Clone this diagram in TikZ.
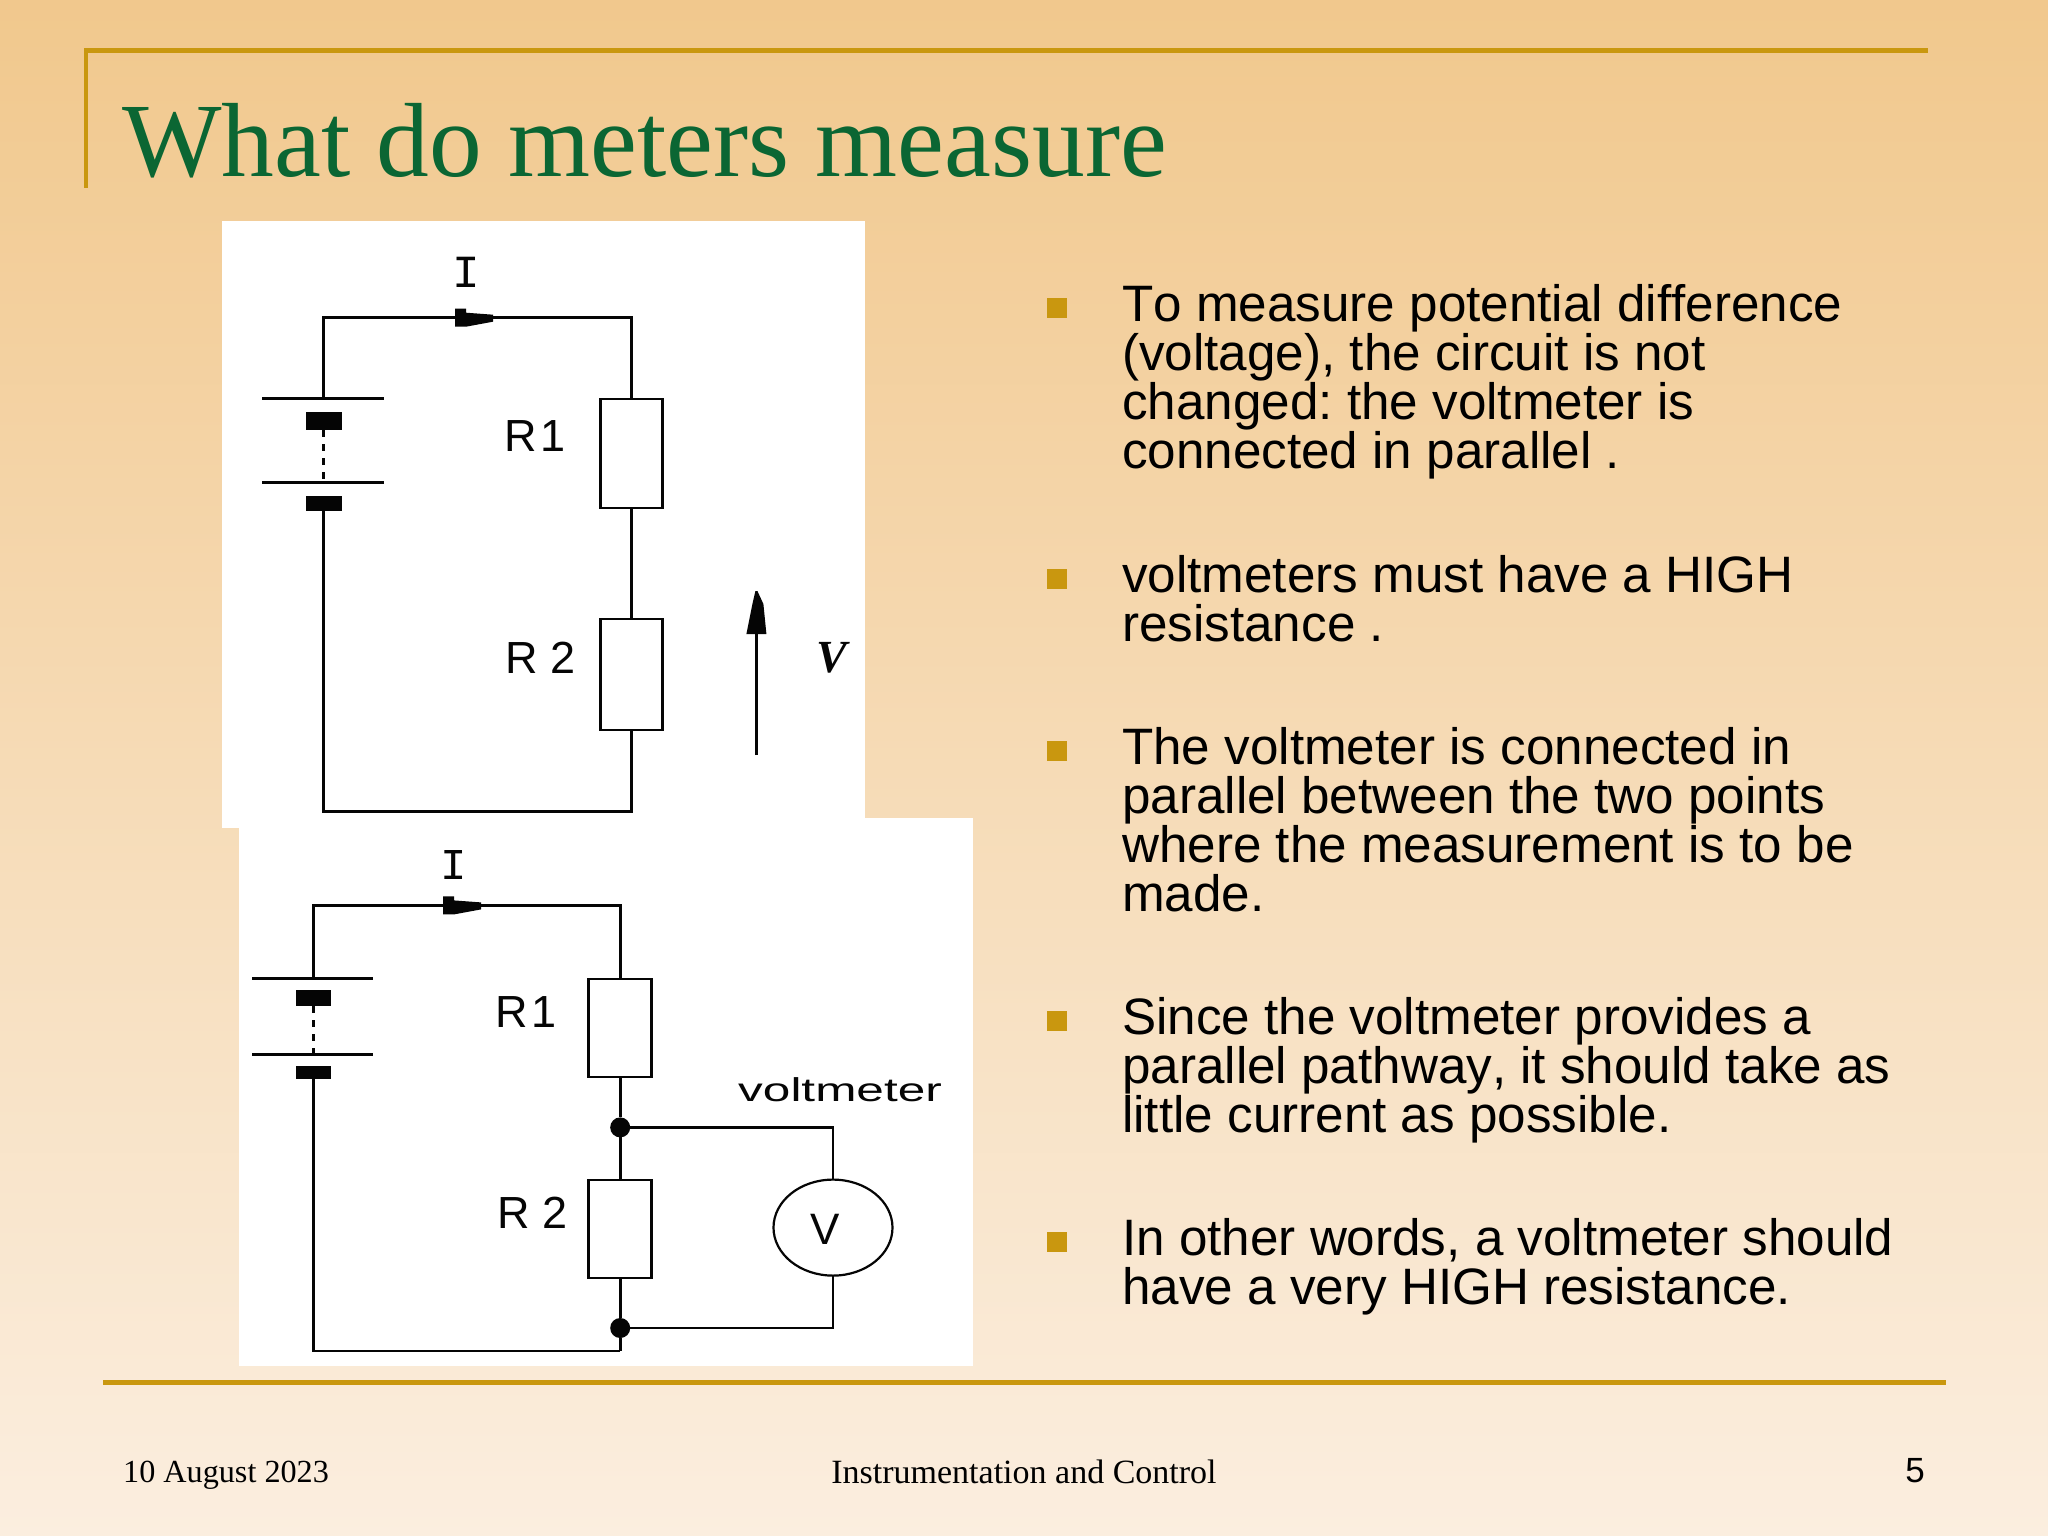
\documentclass[tikz,border=0pt]{standalone}
\usepackage{fontspec}
\usepackage{xcolor}
\usetikzlibrary{shapes.geometric}
\setmainfont[Kerning=Off]{Liberation Sans}
\newfontfamily\plainface{Liberation Sans}
\newfontfamily\serifface{Liberation Serif}
\newfontfamily\monoface{Liberation Mono}
\newfontfamily\wideface[FakeStretch=1.5]{Liberation Sans}
\definecolor{slidetop}{HTML}{F1C88D}
\definecolor{slidebot}{HTML}{FBEEDF}
\definecolor{gold}{HTML}{C9970F}
\definecolor{titlegreen}{HTML}{0B6633}
\definecolor{ink}{HTML}{050505}
\frenchspacing
\tikzset{
  wire/.style={draw=ink, line width=2.8pt},
  rule/.style={draw=gold, line width=5pt},
  resistor/.style={draw=ink, fill=white, line width=2.8pt, rectangle, inner sep=0pt, outer sep=0pt},
  cellplate/.style={fill=ink, rectangle, inner sep=0pt, outer sep=0pt, minimum height=3pt},
  cellblock/.style={fill=ink, rectangle, inner sep=0pt, outer sep=0pt},
  jdot/.style={fill=ink, circle, inner sep=0pt, outer sep=0pt, minimum size=20pt},
  meter/.style={draw=ink, fill=white, line width=2.2pt, ellipse, inner sep=0pt, outer sep=0pt, minimum width=119pt, minimum height=96pt},
  circuitlabel/.style={inner sep=0pt, text=ink, font=\plainface\fontsize{45}{45}\selectfont},
  bullet/.style={fill=gold, rectangle, inner sep=0pt, minimum size=20pt},
  bodytext/.style={anchor=north west, inner sep=0pt, align=left, text=black, font=\fontsize{51.2}{49}\selectfont},
  foottext/.style={inner sep=0pt, text=black, font=\serifface\fontsize{32.2}{32.2}\selectfont}
}
% block and blunt taper on the top wire
\newcommand{\currentmark}[1]{
  \fill[ink] (#1) ++(0,-9) -- ++(11,0) -- ++(0,4) -- ++(27,2) -- ++(0,7) -- ++(-27,5) -- ++(-11,0) -- cycle;
}
\begin{document}
\begin{tikzpicture}[x=1pt,y=-1pt]
\useasboundingbox (0,0) rectangle (2048,1536);
\shade[top color=slidetop, bottom color=slidebot] (0,0) rectangle (2048,1536);

% frame rules
\draw[rule] (84,51) -- (1928,51);
\draw[draw=gold, line width=4pt] (86,49) -- (86,188);
\draw[rule] (103,1382) -- (1946,1382);

\node[anchor=base west, inner sep=0pt, text=titlegreen, font=\serifface\fontsize{105.4}{105.4}\selectfont] (title) at (122,176) {What do meters measure};

% white panels
\fill[white] (222,221) rectangle (865,828);
\fill[white] (239,818) rectangle (973,1366);

% upper circuit
\node[cellplate, minimum width=122pt] (plateA1) at (322.5,398.5) {};
\node[cellblock, minimum width=36pt, minimum height=18pt] (blockA1) at (323.5,421) {};
\node[cellplate, minimum width=122pt] (plateA2) at (322.5,482.5) {};
\node[cellblock, minimum width=36pt, minimum height=15pt] (blockA2) at (323.5,503) {};
\node[resistor, minimum width=61.5pt, minimum height=109pt] (R1a) at (631.5,453.5) {};
\node[resistor, minimum width=61.5pt, minimum height=111pt] (R2a) at (631.5,674.5) {};
\coordinate (cornerA1) at (631.5,317.7);
\coordinate (cornerA2) at (631.5,811.4);
\coordinate (plateA1top) at (323.5,398.5);
\draw[wire] (plateA1top) |- (cornerA1) -- (R1a.north);
\draw[wire] (R1a.south) -- (R2a.north);
\draw[wire] (blockA2.south) |- (cornerA2) -- (R2a.south);
\draw[draw=ink, line width=2.8pt, dash pattern=on 7pt off 7pt] (blockA1.south) -- (plateA2.north -| blockA1.south);
\coordinate (markA) at (455,317.7);
\currentmark{markA}
\node[circuitlabel, font=\monoface\fontsize{46}{46}\selectfont] (Ia) at (466,272) {I};
\node[circuitlabel] (labR1a) at (535,436) {R\hspace{3pt}1};
\node[circuitlabel] (labR2a) at (541,658) {R 2};
\coordinate (voltA) at (756.4,755);
\coordinate (voltAtip) at (756.4,634);
\draw[wire] (voltA) -- (voltAtip);
\fill[ink] (voltAtip) ++(-10,0) -- ++(20,0) -- ++(-3,-30) -- ++(-6,-13) -- ++(-2,0) -- ++(-3,13) -- cycle;
\node[circuitlabel, font=\serifface\bfseries\itshape\fontsize{46}{46}\selectfont] (Va) at (832,658) {V};

% lower circuit
\node[cellplate, minimum width=121pt] (plateB1) at (312.5,978.5) {};
\node[cellblock, minimum width=35pt, minimum height=16pt] (blockB1) at (313.5,998) {};
\node[cellplate, minimum width=121pt] (plateB2) at (312.5,1054) {};
\node[cellblock, minimum width=35pt, minimum height=13pt] (blockB2) at (313.5,1072) {};
\node[resistor, minimum width=63pt, minimum height=98pt] (R1b) at (620.2,1028) {};
\node[resistor, minimum width=63pt, minimum height=98pt] (R2b) at (620.2,1229) {};
\node[jdot] (jtop) at (620.2,1127.4) {};
\node[jdot] (jbot) at (620.2,1328) {};
\node[meter] (vm) at (833,1227.6) {};
\node[inner sep=0pt, text=ink, font=\plainface\fontsize{44}{44}\selectfont] (vmlab) at (825,1229) {V};
\coordinate (cornerB1) at (620.2,905.4);
\coordinate (cornerB2) at (620.2,1351);
\coordinate (plateB1top) at (313.5,978.5);
\draw[wire] (plateB1top) |- (cornerB1) -- (R1b.north);
\draw[wire] (R1b.south) -- (jtop) -- (R2b.north);
\draw[wire] (R2b.south) -- (jbot) -- (cornerB2);
\draw[wire] (blockB2.south) |- (cornerB2);
\draw[wire] (jtop) -| (vm.north);
\draw[wire] (jbot) -| (vm.south);
\draw[draw=ink, line width=2.8pt, dash pattern=on 7pt off 7pt] (blockB1.south) -- (plateB2.north -| blockB1.south);
\coordinate (markB) at (443,905.4);
\currentmark{markB}
\node[circuitlabel, font=\monoface\fontsize{44}{44}\selectfont] (Ib) at (454,865) {I};
\node[circuitlabel] (labR1b) at (526,1012) {R\hspace{3pt}1};
\node[circuitlabel] (labR2b) at (533,1213) {R 2};
\node[inner sep=0pt, text=ink, font=\wideface\fontsize{33}{33}\selectfont] (vmname) at (840,1090) {voltmeter};

% bullet list
\node[bullet] (b1) at (1057,308) {};
\node[bullet] (b2) at (1057,579) {};
\node[bullet] (b3) at (1057,751) {};
\node[bullet] (b4) at (1057,1021) {};
\node[bullet] (b5) at (1057,1242) {};
\node[bodytext] (t1) at (1122,284) {To measure potential difference\\(voltage), the circuit is not\\changed: the voltmeter is\\connected in parallel .};
\node[bodytext] (t2) at (1122,555) {voltmeters must have a HIGH\\resistance .};
\node[bodytext] (t3) at (1122,727) {The voltmeter is connected in\\parallel between the two points\\where the measurement is to be\\made.};
\node[bodytext] (t4) at (1122,997) {Since the voltmeter provides a\\parallel pathway, it should take as\\little current as possible.};
\node[bodytext] (t5) at (1122,1218) {In other words, a voltmeter should\\have a very HIGH resistance.};

% footer
\node[foottext, anchor=base west] (fdate) at (123,1482) {10 August 2023};
\node[foottext, anchor=base, font=\serifface\fontsize{34}{34}\selectfont] (fname) at (1024,1483) {Instrumentation and Control};
\node[anchor=base, inner sep=0pt, font=\plainface\fontsize{35}{35}\selectfont] (fnum) at (1915,1482) {5};
\end{tikzpicture}
\end{document}
